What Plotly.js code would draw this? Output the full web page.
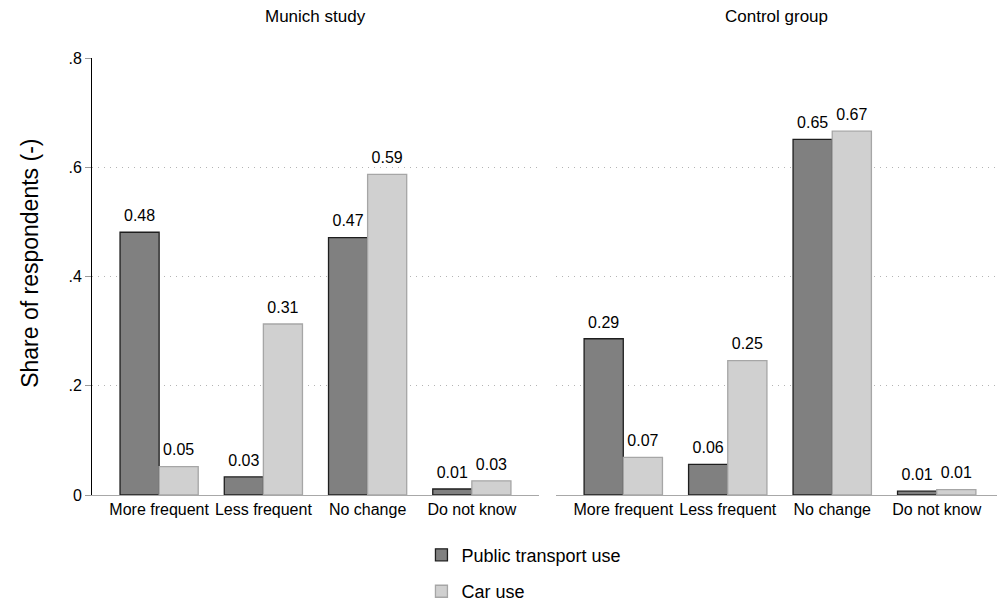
<!DOCTYPE html>
<html>
<head>
<meta charset="utf-8">
<script src="https://cdn.plot.ly/plotly-3.0.1.min.js"></script>
<style>html,body{margin:0;padding:0;background:#fff;}#chart{width:998px;height:605px;}</style>
</head>
<body>
<div id="chart"></div>
<script>
// ---- data ----
var categories = ["More frequent", "Less frequent", "No change", "Do not know"];
var munichPublic = [0.481, 0.033, 0.471, 0.011];
var munichCar    = [0.052, 0.313, 0.587, 0.026];
var controlPublic = [0.286, 0.056, 0.651, 0.007];
var controlCar    = [0.069, 0.246, 0.666, 0.010];
var panelTitles = ["Munich study", "Control group"];
var seriesNames = ["Public transport use", "Car use"];
var yTickVals = [0, 0.2, 0.4, 0.6, 0.8];
var yTickText = ["0", ".2", ".4", ".6", ".8"];

var FONT = "Liberation Sans, Arial, Helvetica, sans-serif";
var darkFill = "#808080", darkLine = "#1e1e1e";
var lightFill = "#d0d0d0", lightLine = "#a6a6a6";

function barTrace(vals, name, xa, ya, fill, line, show, grp) {
  return {
    type: "bar", x: categories, y: vals, name: name,
    xaxis: xa, yaxis: ya, legendgroup: grp, showlegend: show,
    offsetgroup: grp,
    marker: {color: fill, line: {color: line, width: 1.3}},
    hoverinfo: "skip"
  };
}
function textTrace(vals, xa, ya, grp) {
  return {
    type: "scatter", mode: "markers+text", x: categories, y: vals,
    xaxis: xa, yaxis: ya, showlegend: false, offsetgroup: grp,
    marker: {size: 10, color: "rgba(0,0,0,0)"},
    texttemplate: "%{y:.2f}", textposition: "top center",
    textfont: {family: FONT, size: 16, color: "#000"},
    cliponaxis: false, hoverinfo: "skip"
  };
}

var data = [
  barTrace(munichPublic, seriesNames[0], "x", "y", darkFill, darkLine, true, "pt"),
  barTrace(munichCar, seriesNames[1], "x", "y", lightFill, lightLine, true, "car"),
  barTrace(controlPublic, seriesNames[0], "x2", "y2", darkFill, darkLine, false, "pt"),
  barTrace(controlCar, seriesNames[1], "x2", "y2", lightFill, lightLine, false, "car"),
  textTrace(munichPublic, "x", "y", "pt"),
  textTrace(munichCar, "x", "y", "car"),
  textTrace(controlPublic, "x2", "y2", "pt"),
  textTrace(controlCar, "x2", "y2", "car")
];

var yBase = {
  range: [0, 0.8], tickvals: yTickVals, ticktext: yTickText,
  showgrid: true, gridcolor: "#b4b4b4", griddash: "1px,5px", gridwidth: 1,
  zeroline: false, fixedrange: true
};
var xBase = {
  type: "category", showline: true, linecolor: "#a8a8a8", linewidth: 1,
  ticks: "", showgrid: false, zeroline: false,
  tickfont: {family: FONT, size: 16, color: "#000"}, fixedrange: true
};

var layout = {
  width: 998, height: 605,
  margin: {l: 92, r: 1, t: 58, b: 110, autoexpand: false},
  paper_bgcolor: "#fff", plot_bgcolor: "#fff",
  font: {family: FONT, color: "#000"},
  barmode: "group", bargap: 0.25, bargroupgap: 0,
  scattermode: "group", scattergap: 0.25,
  xaxis: Object.assign({}, xBase, {domain: [0, 0.4939], range: [-0.644, 3.644], anchor: "y", automargin: false}),
  xaxis2: Object.assign({}, xBase, {domain: [0.5127, 1], range: [-0.644, 3.577], anchor: "y2", automargin: false}),
  yaxis: Object.assign({}, yBase, {
    anchor: "x", showline: true, linecolor: "#000", linewidth: 1,
    ticks: "outside", ticklen: 6, tickcolor: "#9a9a9a", tickwidth: 1,
    tickfont: {family: FONT, size: 16, color: "#000"}, automargin: false
  }),
  yaxis2: Object.assign({}, yBase, {
    anchor: "x2", showline: false, showticklabels: false, ticks: "", automargin: false
  }),
  showlegend: true,
  legend: {
    orientation: "v", xref: "container", yref: "container",
    x: 0.525, xanchor: "center", y: 0.113, yanchor: "top",
    font: {family: FONT, size: 18, color: "#000"},
    tracegroupgap: 10, traceorder: "grouped", bgcolor: "rgba(0,0,0,0)"
  },
  annotations: [
    {text: panelTitles[0], xref: "x domain", yref: "paper", x: 0.5, y: 1.094,
     xanchor: "center", yanchor: "middle", showarrow: false,
     font: {family: FONT, size: 17, color: "#000"}},
    {text: panelTitles[1], xref: "x2 domain", yref: "paper", x: 0.5, y: 1.094,
     xanchor: "center", yanchor: "middle", showarrow: false,
     font: {family: FONT, size: 17, color: "#000"}},
    {text: "Share of respondents (-)", xref: "paper", yref: "paper",
     x: -0.0685, y: 0.529, xanchor: "center", yanchor: "middle",
     textangle: -90, showarrow: false,
     font: {family: FONT, size: 23, color: "#000"}}
  ]
};

Plotly.newPlot("chart", data, layout, {displayModeBar: false, staticPlot: true});
</script>
</body>
</html>
